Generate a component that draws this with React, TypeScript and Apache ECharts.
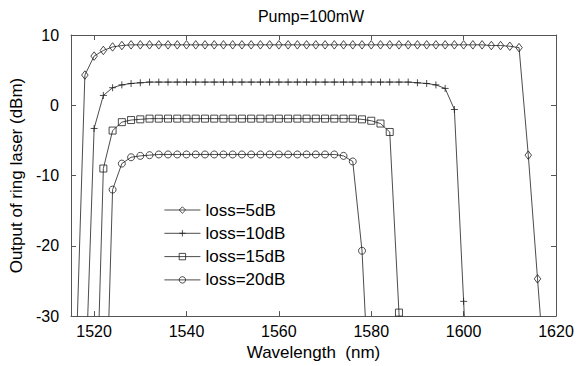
import React, { useEffect, useRef } from 'react';
import * as echarts from 'echarts';

const wavelengths = [
  1516, 1518, 1520, 1522, 1524, 1526, 1528, 1530, 1532, 1534,
  1536, 1538, 1540, 1542, 1544, 1546, 1548, 1550, 1552, 1554,
  1556, 1558, 1560, 1562, 1564, 1566, 1568, 1570, 1572, 1574,
  1576, 1578, 1580, 1582, 1584, 1586, 1588, 1590, 1592, 1594,
  1596, 1598, 1600, 1602, 1604, 1606, 1608, 1610, 1612, 1614,
  1616, 1618,
];

const loss5dB = [
  -38, 4.3, 7.0, 7.8, 8.3, 8.5, 8.6, 8.6, 8.6, 8.6,
  8.6, 8.6, 8.6, 8.6, 8.6, 8.6, 8.6, 8.6, 8.6, 8.6,
  8.6, 8.6, 8.6, 8.6, 8.6, 8.6, 8.6, 8.6, 8.6, 8.6,
  8.6, 8.6, 8.6, 8.6, 8.6, 8.6, 8.6, 8.6, 8.6, 8.6,
  8.6, 8.6, 8.6, 8.6, 8.6, 8.5, 8.5, 8.4, 8.2, -7.1,
  -24.7, -42,
];

const loss10dB = [
  null, -42, -3.3, 1.4, 2.5, 2.9, 3.1, 3.2, 3.3, 3.3,
  3.3, 3.3, 3.3, 3.3, 3.3, 3.3, 3.3, 3.3, 3.3, 3.3,
  3.3, 3.3, 3.3, 3.3, 3.3, 3.3, 3.3, 3.3, 3.3, 3.3,
  3.3, 3.3, 3.3, 3.3, 3.3, 3.3, 3.3, 3.2, 3.1, 2.9,
  2.4, -0.6, -27.9, -55, null, null, null, null, null, null,
  null, null,
];

const loss15dB = [
  null, null, -55, -9.0, -3.6, -2.4, -2.1, -2.0, -1.9, -1.9,
  -1.9, -1.9, -1.9, -1.9, -1.9, -1.9, -1.9, -1.9, -1.9, -1.9,
  -1.9, -1.9, -1.9, -1.9, -1.9, -1.9, -1.9, -1.9, -1.9, -1.9,
  -1.9, -2.0, -2.2, -2.6, -3.8, -29.5, -60, null, null, null,
  null, null, null, null, null, null, null, null, null, null,
  null, null,
];

const loss20dB = [
  null, null, null, -57, -12.0, -8.3, -7.4, -7.2, -7.1, -7.0,
  -7.0, -7.0, -7.0, -7.0, -7.0, -7.0, -7.0, -7.0, -7.0, -7.0,
  -7.0, -7.0, -7.0, -7.0, -7.0, -7.0, -7.0, -7.0, -7.0, -7.2,
  -8.0, -20.7, -47, null, null, null, null, null, null, null,
  null, null, null, null, null, null, null, null, null, null,
  null, null,
];

const seriesNames = ['loss=5dB', 'loss=10dB', 'loss=15dB', 'loss=20dB'];
const xTicks = [1520, 1540, 1560, 1580, 1600, 1620];
const yTicks = [-30, -20, -10, 0, 10];

const FONT = '"Liberation Sans", Arial, Helvetica, sans-serif';
const LINE = '#1e1e1e';
const AXIS = '#555';

function pairs(values: (number | null)[]) {
  const out: [number, number][] = [];
  wavelengths.forEach((w, i) => {
    const v = values[i];
    if (v !== null && v !== undefined) out.push([w, v]);
  });
  return out;
}

export default function App() {
  const ref = useRef<HTMLDivElement>(null);

  useEffect(() => {
    if (!ref.current) return;
    const chart = echarts.init(ref.current, null, { renderer: 'svg' });

    const mk = (name: string, values: (number | null)[], symbol: string, size: any) => ({
      name,
      type: 'line',
      data: pairs(values),
      symbol,
      symbolSize: size,
      clip: true,
      color: LINE,
      lineStyle: { color: LINE, width: 0.8 },
      itemStyle: { color: 'rgba(0,0,0,0)', borderColor: LINE, borderWidth: 0.8 },
      emphasis: { disabled: true },
    });

    const plusPath = 'path://M0,5L10,5M5,0L5,10';

    const axisLineStyle = { show: true, onZero: false, lineStyle: { color: AXIS, width: 1 } };

    const option: any = {
      animation: false,
      textStyle: { fontFamily: FONT },
      graphic: [
        {
          type: 'text',
          x: 311,
          y: 8,
          style: {
            text: 'Pump=100mW',
            fill: '#000',
            font: `16px ${FONT}`,
            textAlign: 'center',
            textVerticalAlign: 'top',
          },
        },
      ],
      grid: { left: 67, right: 31, top: 35, bottom: 49 },
      legend: {
        orient: 'vertical',
        left: 164,
        top: 200,
        itemWidth: 36,
        itemHeight: 8,
        itemGap: 3.3,
        padding: 0,
        textStyle: { fontSize: 17, lineHeight: 20, color: '#000', fontFamily: FONT },
        itemStyle: { color: 'rgba(0,0,0,0)', borderColor: LINE, borderWidth: 0.8 },
        lineStyle: { color: LINE, width: 0.8 },
        data: seriesNames,
        selectedMode: false,
      },
      xAxis: [
        {
          type: 'value',
          position: 'bottom',
          min: 1515,
          max: 1620,
          axisLine: axisLineStyle,
          axisTick: { show: true, inside: true, length: 5, customValues: xTicks, lineStyle: { color: AXIS } },
          axisLabel: {
            show: true,
            customValues: xTicks,
            fontSize: 16,
            color: '#000',
            margin: 7,
            fontFamily: FONT,
            formatter: (v: number) => String(v),
          },
          splitLine: { show: false },
          name: 'Wavelength  (nm)',
          nameLocation: 'middle',
          nameGap: 23,
          nameTextStyle: { fontSize: 17, color: '#000', fontFamily: FONT },
        },
        {
          type: 'value',
          position: 'top',
          min: 1515,
          max: 1620,
          axisLine: axisLineStyle,
          axisTick: { show: true, inside: true, length: 5, customValues: xTicks, lineStyle: { color: AXIS } },
          axisLabel: { show: false },
          splitLine: { show: false },
        },
      ],
      yAxis: [
        {
          type: 'value',
          position: 'left',
          min: -30,
          max: 10,
          interval: 10,
          axisLine: axisLineStyle,
          axisTick: { show: true, inside: true, length: 5, customValues: yTicks, lineStyle: { color: AXIS } },
          axisLabel: { show: true, customValues: yTicks, fontSize: 16, color: '#000', margin: 12, fontFamily: FONT },
          splitLine: { show: false },
          name: 'Output of ring laser (dBm)',
          nameLocation: 'middle',
          nameGap: 31,
          nameTextStyle: { fontSize: 17, color: '#000', fontFamily: FONT },
        },
        {
          type: 'value',
          position: 'right',
          min: -30,
          max: 10,
          interval: 10,
          axisLine: axisLineStyle,
          axisTick: { show: true, inside: true, length: 5, customValues: yTicks, lineStyle: { color: AXIS } },
          axisLabel: { show: false },
          splitLine: { show: false },
        },
      ],
      series: [
        mk(seriesNames[0], loss5dB, 'diamond', [6.5, 8.5]),
        mk(seriesNames[1], loss10dB, plusPath, 7),
        mk(seriesNames[2], loss15dB, 'rect', 7),
        mk(seriesNames[3], loss20dB, 'circle', 7),
      ],
    };

    chart.setOption(option);
    return () => chart.dispose();
  }, []);

  return (
    <div
      ref={ref}
      style={{ position: 'fixed', left: 0, top: 0, width: 587, height: 366, background: '#fff' }}
    />
  );
}
